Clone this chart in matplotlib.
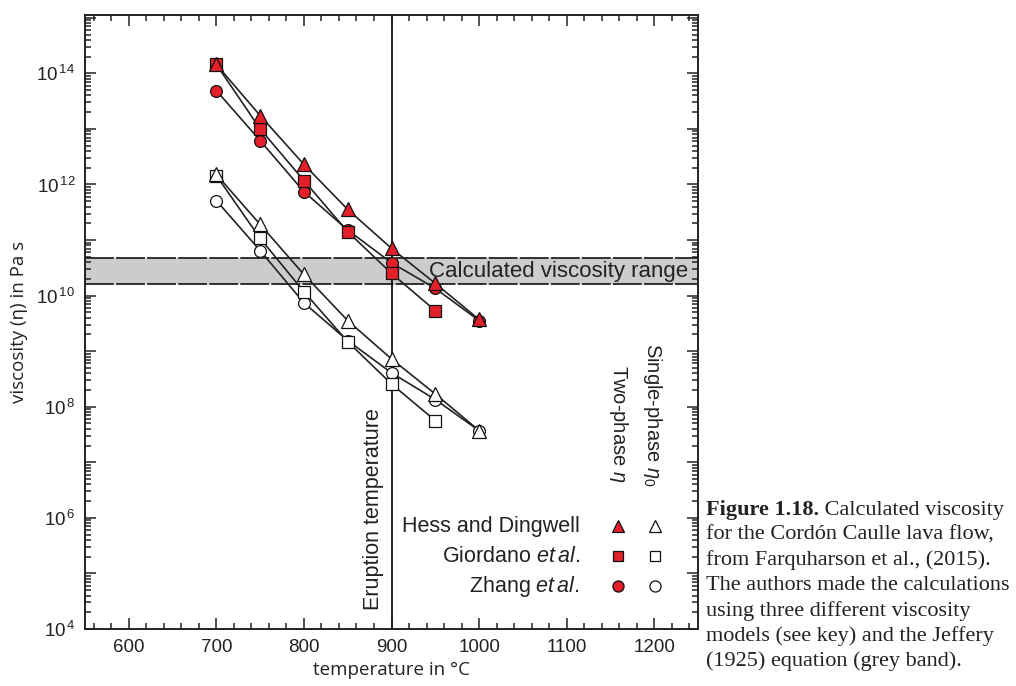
import numpy as np
import matplotlib.pyplot as plt
from matplotlib.ticker import MultipleLocator, LogLocator, FuncFormatter, NullFormatter

plt.rcParams['font.family'] = ['Liberation Sans', 'DejaVu Sans']
plt.rcParams['mathtext.fontset'] = 'custom'
plt.rcParams['mathtext.rm'] = 'Liberation Sans'
plt.rcParams['mathtext.it'] = 'Liberation Sans:italic'
plt.rcParams['mathtext.bf'] = 'Liberation Sans:bold'

# temperatures (deg C)
temp = [700, 750, 800, 850, 900, 950, 1000]
temp_gi = [700, 750, 800, 850, 900, 950]

# log10 viscosity, two-phase (red) and single-phase (white)
hd_two = [14.16, 13.24, 12.36, 11.55, 10.85, 10.22, 9.57]
gi_two = [14.16, 13.00, 12.07, 11.15, 10.40, 9.73]
zh_two = [13.69, 12.79, 11.87, 11.18, 10.59, 10.13, 9.55]
hd_one = [12.18, 11.28, 10.38, 9.55, 8.86, 8.23, 7.57]
gi_one = [12.16, 11.03, 10.07, 9.17, 8.41, 7.75]
zh_one = [11.71, 10.81, 9.87, 9.19, 8.61, 8.13, 7.57]

band = [10.20, 10.68]  # calculated viscosity range (log10)
eruption_temp = 900

red = '#e3202a'

fig = plt.figure(figsize=(10.16, 6.86), dpi=100)
ax = fig.add_axes([85/1016, 57/686, 613/1016, 614/686])

# grey band
ax.axhspan(10**band[0], 10**band[1], color='#cccccc', lw=0, zorder=1)
for b in band:
    ax.axhline(10**b, color='#222222', lw=1.3, dashes=(16, 1.2), zorder=1.2)

ax.axvline(eruption_temp, color='k', lw=1.2, zorder=1.5)

# lines first
for t, v in [(temp, zh_two), (temp_gi, gi_two), (temp, hd_two),
             (temp, zh_one), (temp_gi, gi_one), (temp, hd_one)]:
    ax.plot(t, 10**np.array(v), color='#222222', lw=1.2, zorder=2)

# markers: circles, squares, triangles
mk = dict(ls='none', mec='#111111', mew=0.9, zorder=3)
ax.plot(temp, 10**np.array(zh_two), marker='o', ms=8.5, mfc=red, **mk)
ax.plot(temp, 10**np.array(zh_one), marker='o', ms=8.5, mfc='white', **mk)
ax.plot(temp_gi, 10**np.array(gi_two), marker='s', ms=8, mfc=red, **mk)
ax.plot(temp_gi, 10**np.array(gi_one), marker='s', ms=8, mfc='white', **mk)
ax.plot(temp, 10**np.array(hd_two), marker='^', ms=9.5, mfc=red, **mk)
ax.plot(temp, 10**np.array(hd_one), marker='^', ms=9.5, mfc='white', **mk)

ax.set_yscale('log')
ax.set_xlim(550, 1250)
ax.set_ylim(1e4, 10**15.05)

ax.xaxis.set_major_locator(MultipleLocator(100))
ax.xaxis.set_minor_locator(MultipleLocator(20))
ax.yaxis.set_major_locator(LogLocator(base=10, numticks=30))
ax.yaxis.set_minor_locator(LogLocator(base=10, subs=np.arange(2, 10), numticks=30))
ax.yaxis.set_minor_formatter(NullFormatter())


def ylab(v, pos):
    e = int(round(np.log10(v)))
    return r'$\mathregular{10^{\,%d}}$' % e if e % 2 == 0 else ''


ax.yaxis.set_major_formatter(FuncFormatter(ylab))
ax.tick_params(which='both', direction='in', top=True, right=True, width=1.1,
               labelsize=13.5, colors='#222222')
ax.tick_params(which='major', length=8, pad=7)
ax.tick_params(which='minor', length=4)
for s in ax.spines.values():
    s.set_linewidth(1.4)
    s.set_color('#222222')

ax.set_xlabel('temperature in °C', family=['Open Sans', 'DejaVu Sans'], fontsize=13.5,
              color='#222222', labelpad=4)
ax.set_ylabel('viscosity (η) in Pa s', family=['Open Sans', 'DejaVu Sans'], fontsize=13.5,
              color='#222222', labelpad=6)

ax.text(0.984, 10**10.44, 'Calculated viscosity range', transform=ax.get_yaxis_transform(),
        ha='right', va='center', fontsize=16, color='#222222', zorder=4)

ax.text(0.470, 0.031, 'Eruption temperature', transform=ax.transAxes, rotation=90,
        rotation_mode='anchor', ha='left', va='center', fontsize=15.5, color='#222222')

# legend
rows = ['Hess and Dingwell', r'Giordano $\mathit{et\,al}$.', r'Zhang $\mathit{et\,al}$.']
row_y = [0.167, 0.1185, 0.0698]
marks = [('^', 9), ('s', 7.5), ('o', 8)]
for lab, y, (m, s) in zip(rows, row_y, marks):
    ax.text(0.807, y, lab, transform=ax.transAxes, ha='right', va='center',
            fontsize=15.5, color='#222222')
    ax.plot([0.8695], [y], transform=ax.transAxes, marker=m, ms=s, mfc=red, mec='#111111',
            mew=0.9, ls='none', clip_on=False)
    ax.plot([0.9295], [y], transform=ax.transAxes, marker=m, ms=s, mfc='white', mec='#111111',
            mew=0.9, ls='none', clip_on=False)

ax.text(0.8695, 0.238, r'Two-phase $\eta$', transform=ax.transAxes, rotation=270,
        rotation_mode='anchor', ha='right', va='center', fontsize=14.5, color='#222222')
ax.text(0.9265, 0.232, r'Single-phase $\eta_0$', transform=ax.transAxes, rotation=270,
        rotation_mode='anchor', ha='right', va='center', fontsize=14.5, color='#222222')

# caption
cap = ['for the Cordón Caulle lava flow,',
       'from Farquharson et al., (2015).',
       'The authors made the calculations',
       'using three different viscosity',
       'models (see key) and the Jeffery',
       '(1925) equation (grey band).']
serif = ['Liberation Serif', 'DejaVu Serif']
y0 = 1 - 510/686
dy = 25.2/686
t0 = fig.text(706/1016, y0, 'Figure 1.18.', family=serif, weight='bold', fontsize=16,
              va='center', color='#222222')
ax.annotate(' Calculated viscosity', xy=(1, 0.5), xycoords=t0, va='center', ha='left',
            family=serif, fontsize=16, color='#222222', annotation_clip=False)
for i, line in enumerate(cap):
    fig.text(706/1016, y0 - (i + 1)*dy, line, family=serif, fontsize=16, va='center',
             color='#222222')

fig.savefig('out.png', dpi=100)
